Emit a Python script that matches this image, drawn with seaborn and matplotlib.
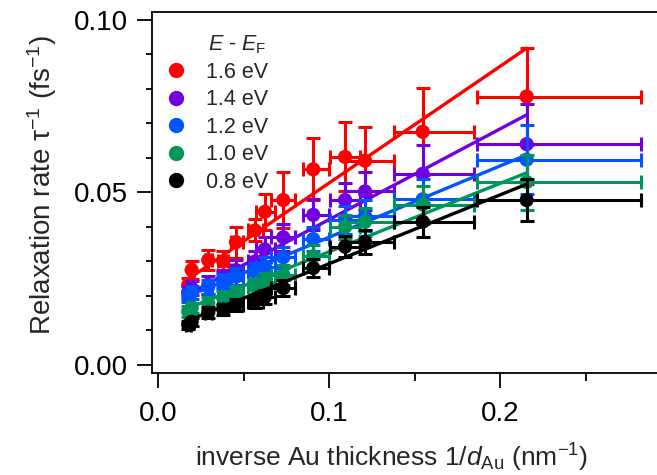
import numpy as np
import pandas as pd
import matplotlib
matplotlib.use("Agg")
import matplotlib.pyplot as plt
import seaborn as sns
from matplotlib.lines import Line2D
from matplotlib.ticker import MultipleLocator, FormatStrFormatter

# ---- data ----
energies = ["1.6 eV", "1.4 eV", "1.2 eV", "1.0 eV", "0.8 eV"]
colors = ["#FF0000", "#7000E0", "#0055FF", "#00955A", "#000000"]

inv_d = [0.0175, 0.0195, 0.0292, 0.0380, 0.0454, 0.0565, 0.0623, 0.0731,
         0.0906, 0.1092, 0.1209, 0.1546, 0.2154]
xerr_lo = [0.0015, 0.0015, 0.002, 0.003, 0.003, 0.004, 0.005, 0.007,
           0.006, 0.009, 0.012, 0.017, 0.029]
xerr_hi = [0.0015, 0.0015, 0.002, 0.003, 0.004, 0.005, 0.006, 0.007,
           0.009, 0.009, 0.017, 0.030, 0.067]

rate_16 = [0.0232, 0.0275, 0.0304, 0.0300, 0.0356, 0.0390, 0.0444, 0.0478,
           0.0567, 0.0603, 0.0592, 0.0676, 0.0778]
rate_14 = [0.0210, 0.0222, 0.0232, 0.0251, 0.0275, 0.0300, 0.0335, 0.0370,
           0.0435, 0.0478, 0.0503, 0.0554, 0.0640]
rate_12 = [0.0200, 0.0210, 0.0227, 0.0241, 0.0256, 0.0270, 0.0285, 0.0312,
           0.0365, 0.0420, 0.0432, 0.0480, 0.0595]
rate_10 = [0.0155, 0.0165, 0.0179, 0.0193, 0.0208, 0.0227, 0.0241, 0.0261,
           0.0315, 0.0400, 0.0415, 0.0465, 0.0530]
rate_08 = [0.0116, 0.0125, 0.0152, 0.0161, 0.0174, 0.0183, 0.0197, 0.0223,
           0.0281, 0.0343, 0.0357, 0.0415, 0.0478]

err_16 = [0.0020, 0.0025, 0.0030, 0.0030, 0.0045, 0.0032, 0.0053, 0.0082,
          0.0090, 0.0100, 0.0097, 0.0126, 0.0140]
err_14 = [0.0020, 0.0020, 0.0025, 0.0025, 0.0030, 0.0030, 0.0035, 0.0040,
          0.0045, 0.0050, 0.0055, 0.0084, 0.0116]
err_12 = [0.0018, 0.0018, 0.0020, 0.0022, 0.0025, 0.0025, 0.0028, 0.0030,
          0.0035, 0.0040, 0.0045, 0.0060, 0.0100]
err_10 = [0.0015, 0.0015, 0.0018, 0.0020, 0.0022, 0.0022, 0.0025, 0.0028,
          0.0032, 0.0036, 0.0040, 0.0055, 0.0080]
err_08 = [0.0012, 0.0012, 0.0015, 0.0015, 0.0018, 0.0018, 0.0020, 0.0022,
          0.0025, 0.0030, 0.0035, 0.0043, 0.0060]

# linear fits: value at first and last inverse thickness
fit_x = [0.0175, 0.2154]
fit_16 = [0.0249, 0.0918]
fit_14 = [0.0205, 0.0725]
fit_12 = [0.0200, 0.0609]
fit_10 = [0.0165, 0.0557]
fit_08 = [0.0129, 0.0524]

rates = [rate_16, rate_14, rate_12, rate_10, rate_08]
errs = [err_16, err_14, err_12, err_10, err_08]
fits = [fit_16, fit_14, fit_12, fit_10, fit_08]

# ---- style ----
sns.set_theme(style="ticks")
plt.rcParams["font.family"] = ["Liberation Sans", "DejaVu Sans"]
plt.rcParams["mathtext.fontset"] = "custom"
plt.rcParams["mathtext.rm"] = "Liberation Sans"
plt.rcParams["mathtext.it"] = "Liberation Sans:italic"
plt.rcParams["mathtext.default"] = "regular"

W, H = 657, 475
LEFT, RIGHT, TOP, BOTTOM = 152, 664, 12, 373
fig = plt.figure(figsize=(W / 100, H / 100), dpi=100)
ax = fig.add_axes([LEFT / W, (H - BOTTOM) / H, (RIGHT - LEFT) / W, (BOTTOM - TOP) / H])

pts = pd.DataFrame({
    "x": np.tile(inv_d, len(energies)),
    "y": np.concatenate(rates),
    "E": np.repeat(energies, len(inv_d)),
})
lines = pd.DataFrame({
    "x": np.tile(fit_x, len(energies)),
    "y": np.concatenate(fits),
    "E": np.repeat(energies, len(fit_x)),
})

for i, (E, c) in enumerate(zip(energies, colors)):
    z = 2 + i * 3
    ax.errorbar(inv_d, rates[i], yerr=errs[i], xerr=[xerr_lo, xerr_hi],
                fmt="none", ecolor=c, elinewidth=2.2, capsize=5,
                capthick=2.2, zorder=z)
    sns.lineplot(data=lines[lines.E == E], x="x", y="y", color=c,
                 linewidth=2.4, ax=ax, zorder=z + 1, legend=False,
                 estimator=None, sort=False)
    sns.scatterplot(data=pts[pts.E == E], x="x", y="y", color=c, s=105,
                    edgecolor="none", ax=ax, zorder=z + 2, legend=False)

ax.set_xlim(-0.0037, (RIGHT - 158.3) / 1710)
ax.set_ylim(-0.00232, 0.1023)
ax.xaxis.set_major_locator(MultipleLocator(0.1))
ax.xaxis.set_minor_locator(MultipleLocator(0.05))
ax.yaxis.set_major_locator(MultipleLocator(0.05))
ax.yaxis.set_minor_locator(MultipleLocator(0.01))
ax.xaxis.set_major_formatter(FormatStrFormatter("%.1f"))
ax.yaxis.set_major_formatter(FormatStrFormatter("%.2f"))

for s in ax.spines.values():
    s.set_linewidth(1.3)
    s.set_color("black")
ax.tick_params(which="major", length=10.5, width=1.3, labelsize=20, color="black",
               labelcolor="black", direction="out")
ax.tick_params(axis="x", which="major", pad=10)
ax.tick_params(axis="y", which="major", pad=7)
ax.tick_params(axis="x", which="minor", length=6, width=1.3, color="black", direction="out")
ax.tick_params(axis="y", which="minor", length=4, width=1.3, color="black", direction="out")

ax.set_xlabel(r"inverse Au thickness 1/$\mathit{d}_{\mathrm{Au}}$ (nm$^{-1}$)",
              fontsize=19)
ax.set_ylabel(r"Relaxation rate $\tau^{-1}$ (fs$^{-1}$)", fontsize=20)
ax.xaxis.set_label_coords((392 - LEFT) / (RIGHT - LEFT), (BOTTOM - 442) / (BOTTOM - TOP))
ax.yaxis.set_label_coords((59 - LEFT) / (RIGHT - LEFT), (BOTTOM - 185.5) / (BOTTOM - TOP))

# legend title (left-aligned with the entry labels, as in the reference)
ax.text((208 - LEFT) / (RIGHT - LEFT), (BOTTOM - 50) / (BOTTOM - TOP),
        r"$\mathit{E}$ - $\mathit{E}_{\mathrm{F}}$", transform=ax.transAxes,
        fontsize=15.5, ha="left", va="baseline")

handles = [Line2D([], [], marker="o", linestyle="none", color=c, markersize=10)
           for c in colors]
leg = ax.legend(handles, energies, loc="upper left",
                bbox_to_anchor=((163 - LEFT) / (RIGHT - LEFT), (BOTTOM - 62) / (BOTTOM - TOP)),
                frameon=False, fontsize=15.5, handletextpad=0.8,
                labelspacing=0.3, borderaxespad=0.0, borderpad=0.0,
                handlelength=1.2)

fig.savefig("out.png", dpi=100)
